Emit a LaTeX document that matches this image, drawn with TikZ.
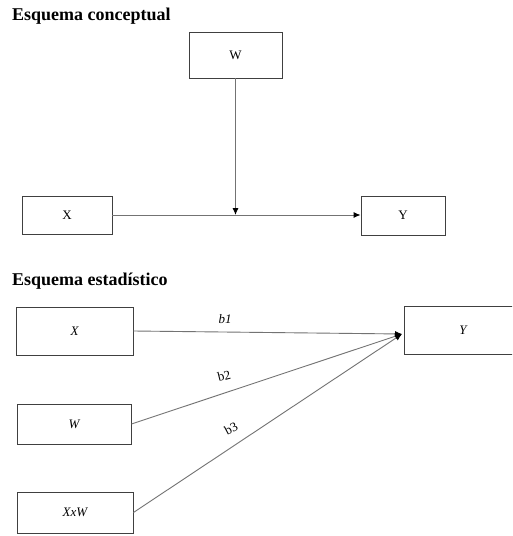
\documentclass[tikz,border=0pt]{standalone}
\usepackage{fontspec}
\setmainfont{Liberation Serif}
\usetikzlibrary{arrows.meta}
\begin{document}
\begin{tikzpicture}[x=1pt,y=-1pt,
  box/.style={draw=black!75,line width=0.9pt,minimum width=#1,inner sep=0pt,font=\fontsize{13}{15}\selectfont},
  conn/.style={draw=black!55,line width=0.9pt,-{Latex[length=7pt,width=6pt,black]}},
  title/.style={anchor=base west,inner sep=0pt,font=\fontsize{18}{20}\bfseries},
  lbl/.style={inner sep=0pt,font=\fontsize{13}{15}\selectfont}]
\useasboundingbox[fill=white] (0,0) rectangle (512,536);
\clip (0,0) rectangle (512,536);
% conceptual
\node[title] (t1) at (12,20) {Esquema conceptual};
\node[box=93pt,minimum height=46pt] (cW) at (235.5,55) {W};
\node[box=90pt,minimum height=38pt] (cX) at (67,215) {X};
\node[box=84pt,minimum height=39pt] (cY) at (403,215.5) {Y};
\draw[conn] (cX.east |- 0,215) -- (cY.west |- 0,215);
\coordinate (cj) at (cW.south |- cX.east);
\draw[conn] (cW.south) -- (cj);
% statistical
\node[title] (t2) at (12,285) {Esquema estadístico};
\node[box=117pt,minimum height=48pt] (sX) at (74.5,331) {\itshape X};
\node[box=118pt,minimum height=48pt] (sY) at (463,330) {\itshape Y};
\node[box=114pt,minimum height=40pt] (sW) at (74,424) {\itshape W};
\node[box=116pt,minimum height=41pt] (sXW) at (75,512.5) {\itshape XxW};
\coordinate (sT) at (402,334);
\draw[conn] (sX.east) -- (sT);
\draw[conn] (sW.east) -- (sT);
\draw[conn] (sXW.east) -- (sT);
\node[lbl] (b1) at (225,319) {\itshape b1};
\node[lbl,rotate=14] (b2) at (224,376) {b2};
\node[lbl,rotate=28] (b3) at (231,429) {b3};
\end{tikzpicture}
\end{document}
